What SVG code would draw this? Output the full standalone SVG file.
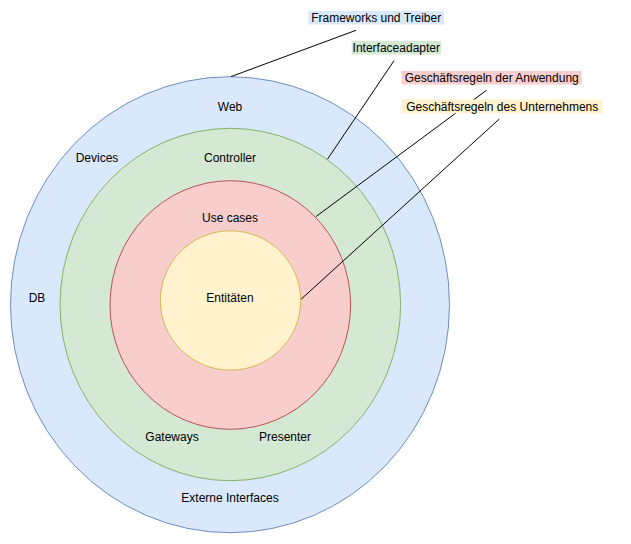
<svg xmlns="http://www.w3.org/2000/svg" width="631" height="544" viewBox="0 0 631 544">
<style>
text{font-family:"Liberation Sans",Arial,sans-serif;font-size:12px;fill:#000;text-anchor:middle}
.l{stroke:#000;stroke-width:1;fill:none}
</style>
<rect width="631" height="544" fill="#fff"/>
<g id="frameworks">
<ellipse cx="230" cy="304.7" rx="219.5" ry="228" fill="#dae8fc" stroke="#6c8ebf"/>
<text x="230" y="111">Web</text>
<text x="97" y="162">Devices</text>
<text x="37" y="302">DB</text>
<text x="230" y="501.5">Externe Interfaces</text>
</g>
<g id="interfaceadapter">
<ellipse cx="230.3" cy="304.5" rx="170.3" ry="176.2" fill="#d5e8d4" stroke="#82b366"/>
<text x="230" y="162">Controller</text>
<text x="172" y="441">Gateways</text>
<text x="285" y="441">Presenter</text>
</g>
<g id="usecases">
<ellipse cx="230.3" cy="305" rx="120.3" ry="124.3" fill="#f8cecc" stroke="#b85450"/>
<text x="230" y="221.5">Use cases</text>
</g>
<g id="entitaeten">
<ellipse cx="230.5" cy="300.5" rx="70.2" ry="69.7" fill="#fff2cc" stroke="#d6b656"/>
<text x="230" y="302">Entitäten</text>
</g>
<g id="connectors">
<line class="l" x1="231" y1="76.6" x2="356" y2="30.3"/>
<line class="l" x1="394" y1="60.7" x2="327.5" y2="159.2"/>
<line class="l" x1="486.7" y1="90.2" x2="315.8" y2="216.7"/>
<line class="l" x1="499.3" y1="119" x2="301" y2="299.3"/>
</g>
<g id="label-frameworks">
<rect x="308.3" y="11" width="135.7" height="13.5" fill="#dae8fc"/>
<text x="376.2" y="22">Frameworks und Treiber</text>
</g>
<g id="label-interfaceadapter">
<rect x="351.7" y="41" width="89.3" height="13.5" fill="#d5e8d4"/>
<text x="396.3" y="52">Interfaceadapter</text>
</g>
<g id="label-anwendung">
<rect x="401.7" y="71" width="180" height="13.5" fill="#f8cecc"/>
<text x="491.7" y="82">Geschäftsregeln der Anwendung</text>
</g>
<g id="label-unternehmen">
<rect x="401.7" y="99.5" width="201" height="13.8" fill="#fff2cc"/>
<text x="502.2" y="110.5">Geschäftsregeln des Unternehmens</text>
</g>
</svg>
